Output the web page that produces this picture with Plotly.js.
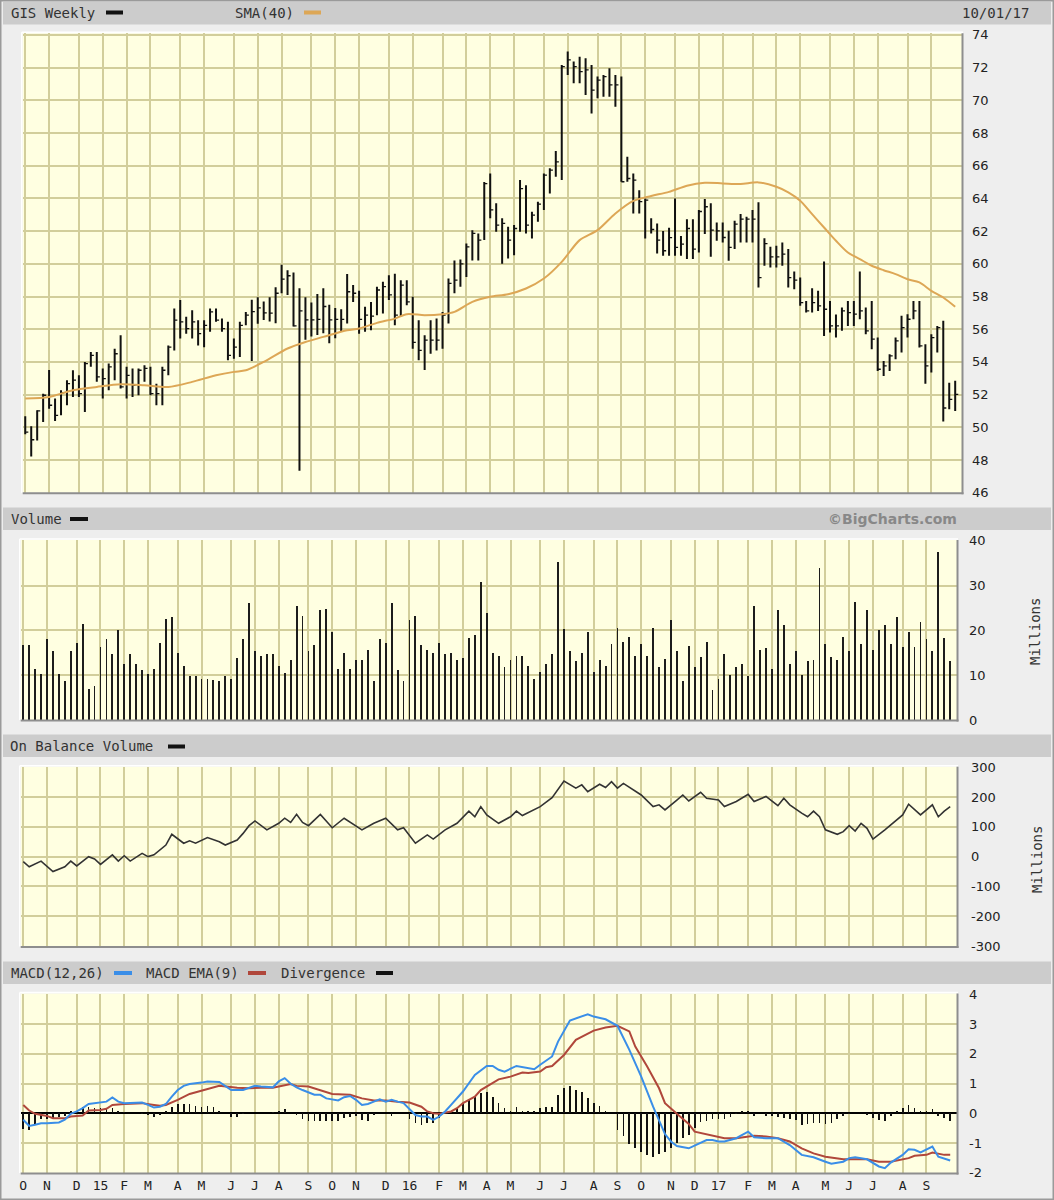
<!DOCTYPE html>
<html><head><meta charset="utf-8">
<script src="https://cdn.plot.ly/plotly-3.0.1.min.js"></script>
<style>html,body{margin:0;padding:0;background:#EEEEEE;}#chart{width:1054px;height:1200px;}</style>
</head><body><div id="chart"></div>
<script>
// ---------- DATA ----------
const FIRST_WEEK = [2014, 9, 5];   // Sunday 2014-10-05 (week start)
const WEEK_COUNT = 157;            // through 2017-10-01
const highs = [50.67,50.06,51.04,52.06,53.5,51.76,52.27,52.88,53.49,53.18,
54.0,54.6,54.6,53.6,53.9,54.8,55.63,53.7,53.6,53.6,
53.8,53.7,52.67,53.7,55.0,57.27,57.78,56.76,57.16,56.55,
56.55,57.27,57.27,56.65,56.45,55.43,56.45,57.06,57.8,57.96,
57.7,57.96,58.57,59.94,59.6,59.47,58.5,57.96,57.63,58.16,
58.5,57.49,57.29,57.22,59.37,58.7,58.35,57.37,57.67,58.6,
58.9,59.3,59.4,59.0,59.0,57.98,56.55,55.63,56.55,56.65,
57.06,59.1,60.2,60.27,61.24,62.06,61.86,65.0,65.53,63.7,
62.78,62.27,62.37,65.12,64.8,63.18,63.8,65.53,65.84,66.9,
72.16,72.98,72.37,72.67,72.57,72.16,71.45,71.55,71.96,71.55,
71.45,66.55,65.53,64.5,64.0,62.78,62.47,62.0,62.2,64.0,
61.7,62.73,62.73,63.29,63.96,63.7,62.53,62.53,62.02,62.63,
63.04,62.88,63.29,63.76,61.57,61.04,61.1,61.31,60.9,59.53,
59.16,57.73,58.51,58.35,60.14,57.73,56.9,57.33,57.73,57.73,
59.53,57.33,57.73,55.49,54.06,54.47,55.49,56.82,56.92,57.73,
57.73,55.08,55.69,56.2,56.51,52.73,52.84];
const lows = [49.57,48.22,49.2,50.33,51.14,50.39,50.73,51.35,51.86,51.86,
50.94,53.7,52.78,51.76,52.27,52.88,52.37,51.76,51.86,51.96,
52.78,51.96,51.35,51.35,53.18,54.7,55.43,55.73,55.43,55.0,
54.9,55.84,56.45,55.84,54.1,54.2,54.3,56.24,54.06,56.33,
56.57,56.47,56.37,58.2,58.1,56.16,47.35,55.35,55.55,55.65,
55.76,55.14,55.45,55.86,56.35,57.67,55.73,55.84,55.94,56.86,
56.96,57.78,56.24,56.76,57.47,54.8,54.1,53.5,54.5,54.7,
54.8,56.35,58.2,58.6,59.2,60.2,60.2,61.45,62.78,61.96,
60.0,60.33,60.53,61.96,61.86,61.55,62.57,63.29,64.3,65.33,
65.12,71.55,71.04,71.04,70.33,69.2,70.12,70.22,70.22,69.6,
65.02,65.02,63.08,63.08,61.55,61.86,60.63,60.5,60.5,60.5,
60.5,60.29,60.29,60.69,61.82,60.43,61.41,61.31,60.18,60.9,
61.31,61.31,61.31,58.55,59.88,59.78,59.78,59.88,58.55,58.45,
57.43,57.02,57.02,57.12,55.59,55.8,55.49,55.9,56.2,56.2,
56.61,55.69,54.78,53.45,53.14,53.45,54.16,54.57,55.49,56.61,
54.88,52.67,53.35,54.57,50.35,51.1,51.0];
const closes = [49.7,49.24,51.0,51.96,51.35,50.73,52.1,52.67,52.88,52.06,
53.9,54.4,53.08,52.98,53.7,54.5,52.47,53.18,52.57,53.49,
53.6,52.06,52.06,53.49,54.9,56.55,56.45,56.04,56.45,55.73,
56.24,57.06,56.55,56.04,54.4,54.9,56.24,56.86,57.08,57.3,
57.0,56.98,58.2,59.06,59.27,56.2,57.12,56.57,56.57,56.6,
57.39,56.57,56.6,56.6,58.29,58.2,56.6,56.86,56.8,58.4,
58.6,58.1,56.86,58.7,57.67,55.2,54.7,55.33,55.33,55.33,
56.86,58.8,59.0,60.0,61.04,61.86,61.45,64.9,63.3,62.37,
62.47,61.45,62.16,64.6,62.37,62.98,63.65,65.43,65.73,66.24,
72.06,72.47,72.06,71.76,71.86,70.63,71.24,71.45,70.94,70.94,
65.02,65.22,65.12,63.8,63.9,62.1,61.45,60.8,61.6,61.0,
61.2,62.16,60.9,63.2,63.49,62.06,62.02,61.61,61.0,62.43,
62.73,62.73,62.73,59.16,61.24,60.43,60.43,60.59,59.16,59.0,
57.63,57.12,57.63,57.43,57.22,56.2,56.2,57.12,57.02,56.92,
57.12,55.9,55.39,53.55,53.76,54.37,55.29,56.1,56.61,57.12,
54.98,53.76,55.49,56.1,51.18,51.71,52.02];
const volumeM = [16.8,16.8,11.5,10.2,18.0,15.5,10.2,8.6,15.5,17.1,
21.4,6.9,7.6,16.4,18.0,14.7,20.0,12.4,14.7,12.4,
11.2,10.2,11.5,17.1,22.6,22.9,15.0,12.1,9.8,9.8,
9.2,9.2,8.9,8.6,9.8,9.2,13.8,18.0,26.2,15.5,
14.4,14.7,14.7,12.1,10.5,13.4,25.5,23.2,15.5,16.7,
24.6,24.9,19.7,11.5,15.0,11.5,13.4,13.4,15.7,8.6,
18.0,17.1,26.2,11.2,8.6,22.3,23.2,16.7,15.7,15.0,
17.1,14.7,15.0,13.5,13.8,18.4,19.0,30.8,24.0,15.0,
14.4,11.8,13.5,14.4,14.4,12.1,9.2,10.8,12.4,14.7,
35.2,20.3,15.4,13.2,15.0,19.7,10.8,13.4,12.1,17.0,
20.6,17.4,18.6,14.4,17.0,14.4,20.6,11.8,13.7,22.3,
15.4,8.6,16.6,11.8,14.0,17.4,6.6,9.2,14.7,10.1,
11.8,12.4,9.8,25.5,15.7,16.0,11.5,24.5,21.2,12.4,
15.4,10.1,13.1,13.4,34.0,17.0,14.0,13.4,18.6,15.4,
26.4,17.0,24.5,15.7,20.0,21.2,17.0,22.9,16.3,19.7,
16.3,21.9,18.0,15.4,37.6,18.3,13.1];
const smaWeek = [0,4,8,12,16,20,24,28,32,35,37,40,44,47,50,54,56,59,62,64,67,70,72,75,78,81,84,87,90,93,96,99,102,105,108,111,114,117,120,123,126,128,130,132,134,136,138,140,142,144,146,148,150,152,154,156];
const smaVal = [51.76,51.86,52.27,52.47,52.63,52.57,52.47,52.78,53.18,53.39,53.49,54.0,54.82,55.22,55.53,55.94,56.04,56.39,56.65,56.92,56.86,56.92,57.06,57.67,57.98,58.14,58.49,59.1,60.12,61.45,62.06,63.08,63.85,64.15,64.4,64.78,64.96,64.92,64.88,64.98,64.71,64.37,63.86,63.04,62.22,61.41,60.69,60.29,59.88,59.61,59.37,59.06,58.86,58.35,57.94,57.37];
const obvWeek = [0,1,3,5,7,8,9,11,12,13,15,16,17,18,20,21,22,24,25,27,28,29,31,33,34,36,37,38,39,41,43,44,45,46,47,48,50,52,54,57,59,61,63,64,66,68,69,71,73,75,76,77,78,80,82,83,84,86,87,89,91,93,94,95,97,98,99,100,101,104,106,107,108,110,111,112,114,115,117,118,120,122,123,125,127,128,129,131,132,133,134,135,137,138,139,140,141,142,143,145,148,149,151,153,154,155,156];
const obvVal = [-17,-34,-15,-50,-34,-15,-31,0,-8,-26,6,-15,3,-15,11,0,6,39,75,45,53,45,64,50,39,56,78,104,120,90,112,129,115,142,115,104,142,97,129,90,112,129,90,97,45,73,59,90,112,153,134,168,140,112,134,153,138,157,168,198,254,230,241,218,243,232,252,230,246,207,168,174,157,190,207,187,216,196,190,168,185,209,185,202,171,196,174,146,134,153,134,90,75,84,104,86,112,95,59,90,140,176,140,174,134,153,168];
const macdWeek = [0,1,2,3,4,6,7,8,9,10,11,12,13,14,15,16,17,18,20,21,22,23,24,25,26,27,28,30,31,33,34,35,37,38,39,40,42,43,44,45,46,47,48,49,50,51,53,54,55,56,57,58,59,60,61,62,63,64,66,67,68,69,70,71,72,74,75,76,78,79,80,81,83,84,85,86,87,89,90,92,95,96,98,100,102,104,106,108,109,110,112,114,115,116,117,118,120,121,122,123,125,127,129,131,133,135,136,138,139,140,142,144,145,146,148,149,150,151,152,153,154,156];
const macdVal = [-0.22,-0.43,-0.39,-0.34,-0.34,-0.31,-0.22,-0.02,0.06,0.17,0.31,0.34,0.36,0.39,0.53,0.39,0.34,0.34,0.36,0.28,0.19,0.22,0.31,0.56,0.78,0.92,0.98,1.03,1.07,1.05,0.9,0.78,0.78,0.86,0.92,0.9,0.87,1.07,1.18,0.99,0.87,0.78,0.7,0.62,0.62,0.5,0.43,0.54,0.58,0.45,0.28,0.31,0.39,0.47,0.39,0.45,0.39,0.34,-0.06,-0.11,-0.11,-0.22,-0.11,0.06,0.28,0.73,1.01,1.29,1.59,1.59,1.46,1.40,1.59,1.55,1.51,1.48,1.63,1.91,2.41,3.12,3.33,3.25,3.16,2.94,2.13,1.23,0.22,-0.7,-0.95,-1.1,-1.18,-1.01,-0.9,-0.9,-0.95,-0.95,-0.84,-0.73,-0.62,-0.81,-0.84,-0.84,-1.07,-1.40,-1.48,-1.63,-1.70,-1.63,-1.51,-1.48,-1.55,-1.79,-1.85,-1.66,-1.40,-1.21,-1.23,-1.32,-1.21,-1.12,-1.46,-1.59];
const emaWeek = [0,1,2,4,5,7,8,10,11,13,14,15,17,19,20,22,23,24,26,28,30,32,33,36,38,40,42,45,46,48,50,52,55,57,59,61,63,65,67,68,69,70,72,73,74,76,77,79,80,82,84,85,87,88,89,91,93,96,98,100,102,103,105,107,108,110,112,113,115,117,118,120,122,123,125,127,129,131,133,135,138,140,142,144,146,149,150,152,153,155,156];
const emaVal = [0.28,0.09,-0.02,-0.09,-0.17,-0.17,-0.11,-0.08,0.09,0.11,0.15,0.28,0.31,0.34,0.34,0.28,0.25,0.28,0.45,0.65,0.75,0.86,0.92,0.86,0.84,0.86,0.86,0.98,0.92,0.9,0.78,0.65,0.62,0.5,0.43,0.43,0.39,0.36,0.22,0.06,0.0,-0.02,0.06,0.17,0.34,0.56,0.78,1.01,1.14,1.23,1.37,1.35,1.4,1.55,1.59,1.96,2.47,2.78,2.88,2.94,2.75,2.24,1.57,0.84,0.34,-0.02,-0.36,-0.62,-0.7,-0.78,-0.84,-0.84,-0.78,-0.76,-0.78,-0.84,-0.95,-1.18,-1.35,-1.46,-1.55,-1.55,-1.55,-1.63,-1.63,-1.51,-1.43,-1.40,-1.32,-1.40,-1.40];
const divergence = [-0.54,-0.58,-0.39,-0.2,-0.2,-0.2,-0.13,-0.09,0.09,0.09,
0.22,0.2,0.17,0.17,0.19,0.19,0.09,0.03,0,0,
-0.02,-0.06,-0.11,-0.07,0.06,0.22,0.3,0.3,0.3,0.25,
0.2,0.25,0.22,0.09,0,-0.13,-0.13,-0.01,0,0,
0,0,0.03,0.09,0.15,0,-0.07,-0.2,-0.25,-0.25,
-0.25,-0.25,-0.25,-0.25,-0.17,-0.11,-0.08,-0.22,-0.25,-0.06,
0,0,-0.08,0,0,-0.2,-0.34,-0.39,-0.34,-0.34,
-0.17,-0.02,0.06,0.17,0.36,0.47,0.54,0.67,0.7,0.54,
0.34,0.17,0.09,0.22,0.09,0.06,0.09,0.17,0.22,0.22,
0.62,0.84,0.9,0.78,0.7,0.5,0.34,0.25,0.09,0,
-0.56,-0.78,-1.03,-1.18,-1.32,-1.4,-1.48,-1.37,-1.32,-1.18,
-1.01,-0.84,-0.73,-0.5,-0.3,-0.25,-0.2,-0.2,-0.2,-0.11,
-0.02,0.06,0.09,-0.09,0,-0.08,-0.08,-0.11,-0.17,-0.2,
-0.22,-0.39,-0.36,-0.34,-0.34,-0.36,-0.34,-0.2,-0.09,-0.02,
0,0,-0.07,-0.17,-0.22,-0.25,-0.09,0.06,0.17,0.28,
0.17,0.09,0.09,0.13,-0.09,-0.17,-0.25];
const priceTicks = [46,48,50,52,54,56,58,60,62,64,66,68,70,72,74];
const volTicks = [0,10,20,30,40];
const obvTicks = [-300,-200,-100,0,100,200,300];
const macdTicks = [-2,-1,0,1,2,3,4];
const monthLetters = ['J','F','M','A','M','J','J','A','S','O','N','D'];

// ---------- BUILD ----------
const DAY = 86400000;
const pad = n => String(n).padStart(2,'0');
function fmt(ms){const d=new Date(ms);return d.getUTCFullYear()+'-'+pad(d.getUTCMonth()+1)+'-'+pad(d.getUTCDate())+' '+pad(d.getUTCHours())+':'+pad(d.getUTCMinutes());}
const t0 = Date.UTC(FIRST_WEEK[0],FIRST_WEEK[1],FIRST_WEEK[2]);
const weekMs = Array.from({length:WEEK_COUNT},(_,i)=>t0+i*7*DAY);
const weeks = weekMs.map(fmt);
const tickVals=[], tickText=[];
weekMs.forEach((ms,i)=>{const d=new Date(ms);const m=d.getUTCMonth();
  if(i===0 || m!==new Date(weekMs[i-1]).getUTCMonth()){
    if(i===WEEK_COUNT-1) return;
    tickVals.push(weeks[i]);
    tickText.push(m===0 ? String(d.getUTCFullYear()).slice(2) : monthLetters[m]);
  }});

const hlX=[],hlY=[],ckX=[],ckY=[];
weekMs.forEach((ms,i)=>{hlX.push(weeks[i],weeks[i],null);hlY.push(lows[i],highs[i],null);
  ckX.push(weeks[i],fmt(ms+3.6*DAY),null);ckY.push(closes[i],closes[i],null);});
const at = idx => idx.map(i=>weeks[i]);

const W=1054,H=1200;
const fx=x=>x/W, fy=y=>1-y/H;
const P={price:[22.7,962,33.3,492.7],vol:[20.7,957,540,720],obv:[20.7,957,766.7,946.5],macd:[20.7,957,993.5,1173]};
const dom=p=>({x:[fx(p[0]),fx(p[1])],y:[fy(p[3]),fy(p[2])]});
const GRID='#D2CE9B', RANGE=['2014-10-02','2017-10-09'];
const mono='DejaVu Sans Mono, monospace';
function xax(d,anchor,show){return {type:'date',domain:d.x,anchor:anchor,range:RANGE,tickvals:tickVals,ticktext:tickText,showgrid:true,gridcolor:GRID,gridwidth:2,zeroline:false,showline:false,ticks:'',showticklabels:show,tickfont:{family:mono,size:13,color:'#222'},ticklabelstandoff:3,fixedrange:true};}
function yax(d,anchor,range,tv,standoff){return {domain:d.y,anchor:anchor,side:'right',range:range,tickvals:tv,ticktext:tv.map(String),showgrid:true,gridcolor:GRID,gridwidth:2,zeroline:false,showline:false,ticks:'',tickfont:{family:'DejaVu Sans, sans-serif',size:13,color:'#222'},ticklabelstandoff:standoff,fixedrange:true};}

const traces=[
 {x:hlX,y:hlY,xaxis:'x',yaxis:'y',mode:'lines',line:{color:'#111',width:2},hoverinfo:'skip'},
 {x:ckX,y:ckY,xaxis:'x',yaxis:'y',mode:'lines',line:{color:'#111',width:1.3},hoverinfo:'skip'},
 {x:at(smaWeek),y:smaVal,xaxis:'x',yaxis:'y',mode:'lines',line:{color:'#DDA756',width:2,shape:'spline',smoothing:0.8},hoverinfo:'skip'},
 {type:'bar',x:weeks,y:volumeM,xaxis:'x2',yaxis:'y2',width:2.2*DAY,marker:{color:'#1c1c1c'},hoverinfo:'skip'},
 {x:at(obvWeek),y:obvVal,xaxis:'x3',yaxis:'y3',mode:'lines',line:{color:'#333',width:1.6},hoverinfo:'skip'},
 {type:'bar',x:weeks,y:divergence,xaxis:'x4',yaxis:'y4',width:2.0*DAY,marker:{color:'#111'},hoverinfo:'skip'},
 {x:at(emaWeek),y:emaVal,xaxis:'x4',yaxis:'y4',mode:'lines',line:{color:'#B0473B',width:2},hoverinfo:'skip'},
 {x:at(macdWeek),y:macdVal,xaxis:'x4',yaxis:'y4',mode:'lines',line:{color:'#3A8EE8',width:2},hoverinfo:'skip'}
];

const shapes=[], ann=[];
function rect(x0,y0,x1,y1,fill,layer){shapes.push({type:'rect',xref:'paper',yref:'paper',x0:fx(x0),x1:fx(x1),y0:fy(y1),y1:fy(y0),fillcolor:fill,line:{width:0},layer:layer||'below'});}
function line(x0,y0,x1,y1,c,w){shapes.push({type:'line',xref:'paper',yref:'paper',x0:fx(x0),x1:fx(x1),y0:fy(y0),y1:fy(y1),line:{color:c,width:w},layer:'above'});}
function text(t,x,y,opt){opt=opt||{};ann.push({text:t,x:fx(x),y:fy(y),xref:'paper',yref:'paper',showarrow:false,xanchor:opt.anchor||'left',yanchor:'middle',textangle:opt.angle||0,font:{family:opt.family||mono,size:opt.size||14,color:opt.color||'#333',weight:opt.weight||'normal'}});}

// header bands
[[2,24.5],[507.5,530],[734.5,757],[961.5,984]].forEach(b=>rect(3,b[0],1051,b[1],'#CCCCCC'));
// panel bevels
Object.values(P).forEach(p=>{line(p[0]-1,p[2]-1,p[1]+1,p[2]-1,'#FFFFFF',1.5);line(p[0]-1,p[2]-1,p[0]-1,p[3],'#FFFFFF',1.5);
  line(p[0],p[3]+0.5,p[1]+1.5,p[3]+0.5,'#8E8E8E',2);line(p[1]+0.5,p[2],p[1]+0.5,p[3]+1.5,'#8E8E8E',2);});
// outer frame
shapes.push({type:'rect',xref:'paper',yref:'paper',x0:0,x1:1,y0:0,y1:1,line:{color:'#9A9A9A',width:3},fillcolor:'rgba(0,0,0,0)',layer:'above'});
// legend swatches
rect(106,10.5,123,14.5,'#111','above'); rect(304,10.5,321,14.5,'#DDA756','above');
rect(70,517,88,521,'#111','above'); rect(168,744.5,185,748.5,'#111','above');
rect(114,971,132,975,'#3A8EE8','above'); rect(248,971,266,975,'#B0473B','above'); rect(376,971,393,975,'#111','above');

text('GIS Weekly',9,13); text('SMA(40)',233,13); text('10/01/17',960,13);
text('Volume',9,519.5);
text('©BigCharts.com',959,519.5,{anchor:'right',family:'DejaVu Sans, sans-serif',size:14,color:'#888',weight:'bold'});
text('On Balance Volume',8,746);
text('MACD(12,26)',9,973); text('MACD EMA(9)',144,973); text('Divergence',279,973);
text('Millions',1035,632,{angle:-90,size:14,anchor:'center'});
text('Millions',1037,860,{angle:-90,size:14,anchor:'center'});

const layout={width:W,height:H,margin:{l:0,r:0,t:0,b:0},paper_bgcolor:'#EEEEEE',plot_bgcolor:'#FFFFE1',
 showlegend:false,hovermode:false,bargap:0,font:{family:'DejaVu Sans, sans-serif'},
 xaxis:xax(dom(P.price),'y',false), yaxis:yax(dom(P.price),'x',[46,74.1],priceTicks,9),
 xaxis2:xax(dom(P.vol),'y2',false), yaxis2:yax(dom(P.vol),'x2',[0,40.2],volTicks,11),
 xaxis3:xax(dom(P.obv),'y3',false), yaxis3:yax(dom(P.obv),'x3',[-301.7,302],obvTicks,13),
 xaxis4:xax(dom(P.macd),'y4',true), yaxis4:Object.assign(yax(dom(P.macd),'x4',[-2.01,4.027],macdTicks,11),{zeroline:true,zerolinecolor:'#000',zerolinewidth:2}),
 shapes:shapes, annotations:ann};
Plotly.newPlot('chart',traces,layout,{displayModeBar:false,staticPlot:true});
</script></body></html>
